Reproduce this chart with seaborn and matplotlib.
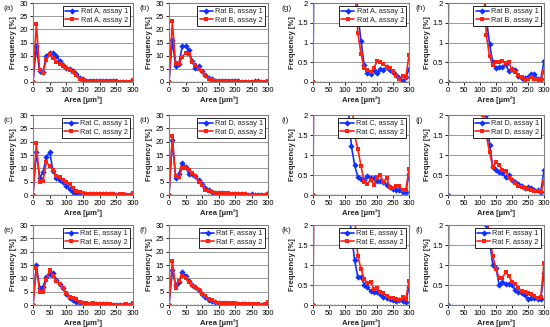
import matplotlib
matplotlib.use('Agg')
import matplotlib.pyplot as plt
import seaborn as sns

# Area bins (µm²)
area = [0, 10, 20, 30, 40, 50, 60, 70, 80, 90, 100, 110, 120, 130, 140, 150,
        160, 170, 180, 190, 200, 210, 220, 230, 240, 250, 260, 270, 280, 290, 300]

# Frequency [%] per rat and assay
rat_a_1 = [0, 13.5, 4, 3.8, 10, 11, 11.2, 10, 8, 6.5, 5.5, 5, 4, 3, 1.7, 1.05, 0.42, 0.22, 0.2, 0.3,
           0.22, 0.33, 0.3, 0.38, 0.3, 0.25, 0.18, 0.1, 0.03, 0.12, 0.32]
rat_a_2 = [0, 22, 4.5, 3.5, 8.5, 10.5, 9.3, 7.5, 6.8, 6, 5.3, 4.7, 3.8, 2.5, 1.25, 0.72, 0.35, 0.3, 0.25, 0.35,
           0.52, 0.5, 0.45, 0.38, 0.35, 0.28, 0.15, 0.08, 0.15, 0.12, 0.68]
rat_b_1 = [0, 16, 6, 7, 13.5, 13.8, 12, 8, 5.5, 6, 4, 2.5, 1.6, 0.95, 0.5, 0.35, 0.38, 0.38, 0.45, 0.28,
           0.32, 0.3, 0.15, 0.1, 0.1, 0.12, 0.2, 0.2, 0.08, 0.08, 0.52]
rat_b_2 = [0, 23, 7.3, 6.8, 9.5, 11, 10.8, 7.5, 6.5, 5, 4, 2.5, 1.18, 0.65, 0.42, 0.5, 0.5, 0.52, 0.48, 0.5,
           0.3, 0.25, 0.18, 0.12, 0.05, 0.08, 0.12, 0.07, 0.07, 0.08, 0.27]
rat_c_1 = [0, 16, 6.5, 8.5, 14.2, 16.2, 9, 6.5, 5.8, 5, 3.5, 2.2, 1.22, 0.75, 0.45, 0.4, 0.38, 0.47, 0.43, 0.43,
           0.35, 0.35, 0.33, 0.25, 0.2, 0.15, 0.12, 0.12, 0.08, 0.07, 0.52]
rat_c_2 = [0, 19.5, 5, 5.2, 12.3, 11, 9.5, 7, 6.8, 5.5, 5, 4, 2.5, 1.5, 1.15, 0.73, 0.32, 0.28, 0.38, 0.25,
           0.45, 0.5, 0.33, 0.42, 0.2, 0.18, 0.22, 0.22, 0.12, 0.12, 0.65]
rat_d_1 = [0, 20.5, 6.5, 8, 12, 10.5, 8, 8, 7, 5.5, 4, 2.5, 2.0, 1.25, 0.7, 0.62, 0.58, 0.55, 0.45, 0.5,
           0.38, 0.32, 0.28, 0.23, 0.18, 0.2, 0.17, 0.13, 0.12, 0.08, 0.62]
rat_d_2 = [0, 22, 7, 6.8, 10, 10, 9.5, 8.3, 7, 5, 3.8, 2, 1.48, 1.07, 0.7, 0.82, 0.75, 0.62, 0.6, 0.42,
           0.38, 0.3, 0.23, 0.2, 0.18, 0.15, 0.13, 0.1, 0.1, 0.07, 0.32]
rat_e_1 = [0, 15, 6.3, 6.8, 10.5, 11.5, 12, 9.5, 8, 6.5, 4, 2.5, 1.8, 1.12, 0.71, 0.7, 0.51, 0.45, 0.34, 0.33,
           0.33, 0.27, 0.2, 0.18, 0.14, 0.12, 0.1, 0.12, 0.1, 0.08, 0.45]
rat_e_2 = [0, 14, 5, 5, 9.5, 13.3, 11, 9, 7.8, 6.5, 4.5, 3, 2.5, 2.2, 1.23, 0.9, 0.65, 0.55, 0.58, 0.4,
           0.42, 0.33, 0.3, 0.22, 0.17, 0.17, 0.14, 0.12, 0.2, 0.15, 0.6]
rat_f_1 = [0, 13, 7.5, 8.5, 12.5, 11, 9, 7.5, 6.8, 5.5, 4, 3, 2, 1.6, 1.0, 0.92, 0.5, 0.58, 0.52, 0.52,
           0.5, 0.38, 0.33, 0.3, 0.25, 0.15, 0.18, 0.18, 0.15, 0.15, 0.8]
rat_f_2 = [0, 16.5, 6.5, 9, 11, 10, 8.5, 7.5, 6.8, 5.5, 4.2, 3.2, 2.4, 1.7, 1.22, 0.9, 0.68, 0.68, 0.82, 0.72,
           0.58, 0.52, 0.42, 0.35, 0.32, 0.3, 0.28, 0.22, 0.18, 0.2, 1.05]

rats = ['A', 'B', 'C', 'D', 'E', 'F']
assay1 = [rat_a_1, rat_b_1, rat_c_1, rat_d_1, rat_e_1, rat_f_1]
assay2 = [rat_a_2, rat_b_2, rat_c_2, rat_d_2, rat_e_2, rat_f_2]
full_labels = ['(a)', '(b)', '(c)', '(d)', '(e)', '(f)']
zoom_labels = ['(g)', '(h)', '(i)', '(j)', '(k)', '(l)']

sns.set_theme(style='white')
plt.rcParams['font.family'] = ['Liberation Sans', 'DejaVu Sans']

W, H = 550, 327
fig = plt.figure(figsize=(W / 100, H / 100), dpi=100)

# axes boxes in pixels: (left, right) per column, (top, bottom) per row
cols = [(33, 133), (169, 268), (313, 409), (448, 544)]
rows = [(3, 82), (115, 195), (225, 305)]
label_x = [3, 139, 282, 416]


def draw_panel(ax, y1, y2, name, zoom):
    sns.lineplot(x=area, y=y1, ax=ax, color='#1030ff', marker='D', markersize=3.2,
                 markeredgewidth=0, linewidth=1.2, label=f'Rat {name}, assay 1')
    sns.lineplot(x=area, y=y2, ax=ax, color='#ff2010', marker='s', markersize=3.0,
                 markeredgewidth=0, linewidth=1.2, label=f'Rat {name}, assay 2')
    ax.axhline(0, color='black', ls=(0, (1, 1.5)), lw=1.0, zorder=1)
    ax.set_xlim(0, 300)
    ax.set_xticks([0, 50, 100, 150, 200, 250, 300])
    if zoom:
        ax.set_ylim(0, 2)
        ax.set_yticks([0, 0.5, 1, 1.5, 2])
        ax.set_yticklabels(['0', '0.5', '1', '1.5', '2'])
    else:
        ax.set_ylim(0, 30)
        ax.set_yticks([0, 5, 10, 15, 20, 25, 30])
    ax.grid(axis='y', color='#8c8c8c', lw=0.6)
    ax.set_axisbelow(True)
    for s in ax.spines.values():
        s.set_color('#808080')
        s.set_linewidth(0.8)
    ax.tick_params(labelsize=5.5, length=2, width=0.6, pad=1.5, colors='black',
                   bottom=True, left=True)
    ax.set_xlabel('Area [µm²]', fontsize=5.5, fontweight='bold', labelpad=1.5)
    ax.set_ylabel('Frequency [%]', fontsize=5.5, fontweight='bold', labelpad=1 if zoom else 2)
    leg = ax.legend(loc='upper right', fontsize=5.3, frameon=True, fancybox=False,
                    framealpha=1, edgecolor='black', borderaxespad=0.4, borderpad=0.3,
                    handlelength=1.8, handletextpad=0.3, labelspacing=0.2)
    leg.get_frame().set_linewidth(0.6)


for i in range(6):
    r = i // 2
    c = i % 2
    top, bot = rows[r]
    # full range panel
    for zoom, col in [(False, c), (True, c + 2)]:
        left, right = cols[col]
        ax = fig.add_axes([left / W, 1 - bot / H, (right - left) / W, (bot - top) / H])
        draw_panel(ax, assay1[i], assay2[i], rats[i], zoom)
        lab = zoom_labels[i] if zoom else full_labels[i]
        fig.text(label_x[col] / W, 1 - (top + 5) / H, lab, fontsize=6, va='center', ha='left')

fig.savefig('out.png', dpi=100)
